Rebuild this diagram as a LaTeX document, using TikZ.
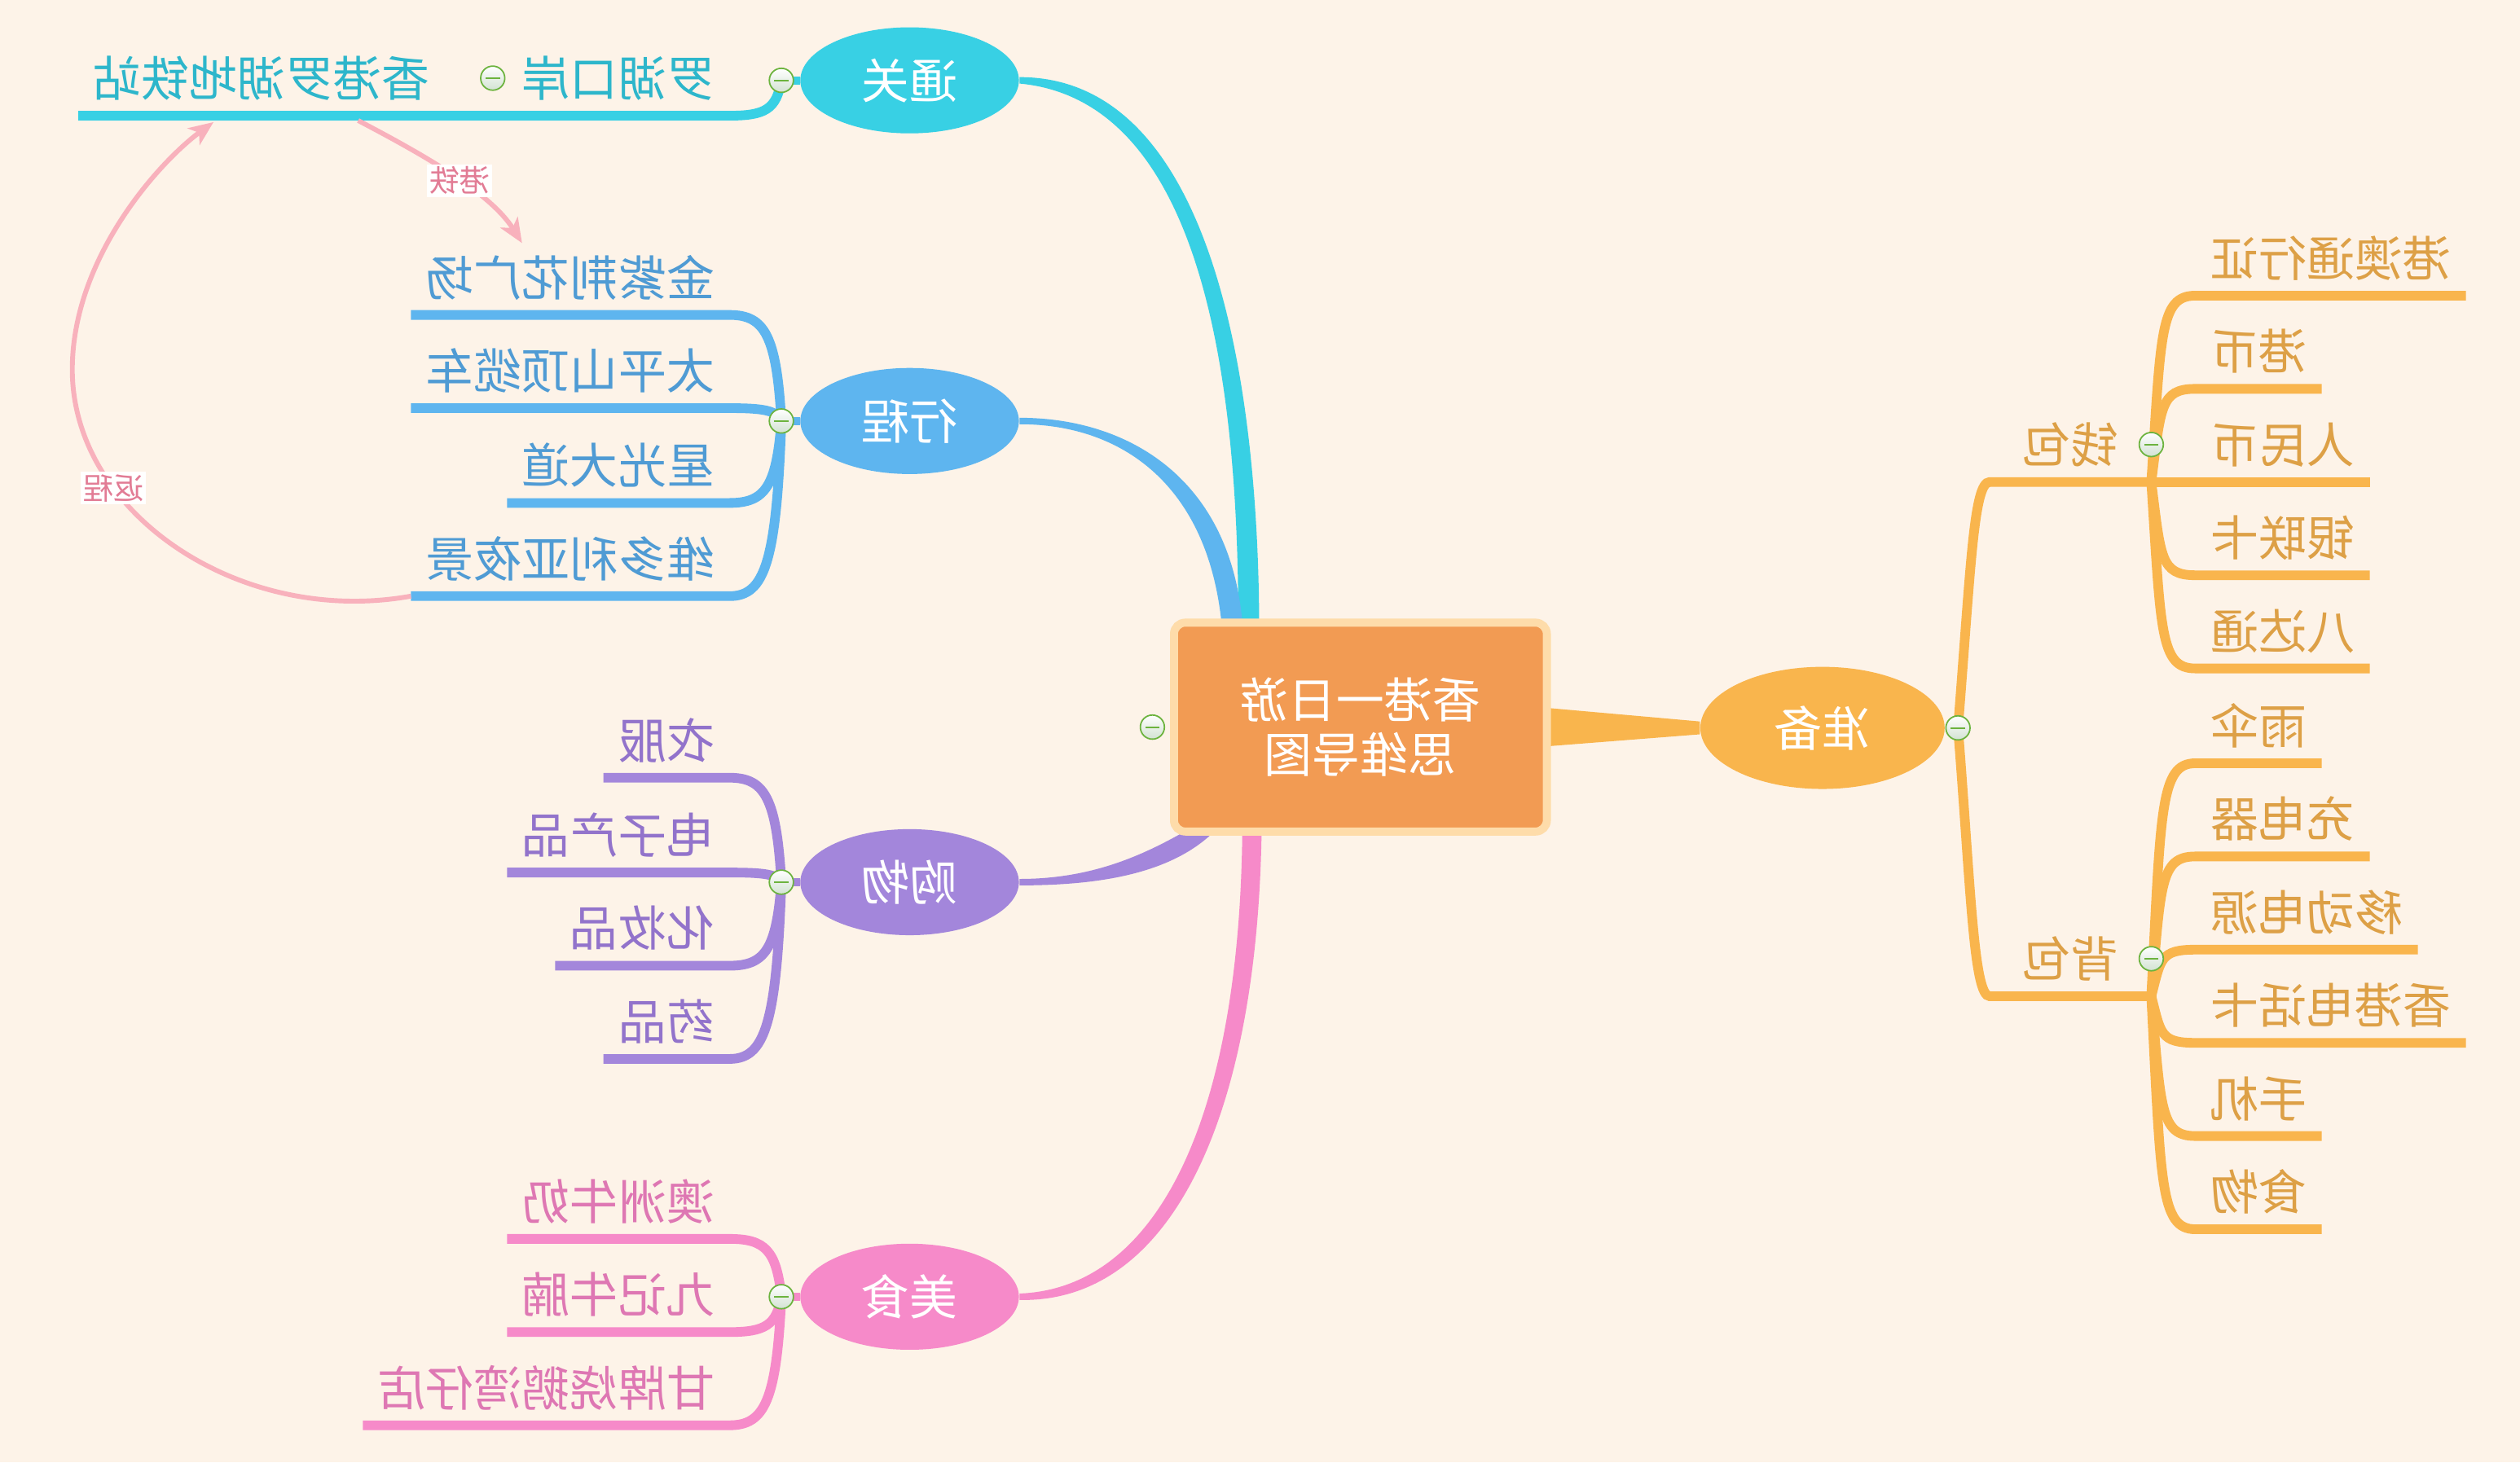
\documentclass[tikz,border=0pt]{standalone}
\usepackage{fontspec}
\newfontfamily\cjk{Noto Sans CJK SC}
\usetikzlibrary{positioning,shapes.geometric,arrows.meta,calc}
\newlength{\mmu}
\setlength{\mmu}{0.19726mm}
\definecolor{bgcream}{HTML}{FDF3E8}
\definecolor{cyanline}{HTML}{38D0E4}
\definecolor{cyantext}{HTML}{2DB6CB}
\definecolor{blueline}{HTML}{5EB5EF}
\definecolor{bluetext}{HTML}{4F9BD4}
\definecolor{purpleline}{HTML}{A386DB}
\definecolor{purpletext}{HTML}{9273CB}
\definecolor{pinkline}{HTML}{F68AC9}
\definecolor{pinktext}{HTML}{DE77B3}
\definecolor{orangeline}{HTML}{F9B54D}
\definecolor{orangetext}{HTML}{DDA046}
\definecolor{rootfill}{HTML}{F29B53}
\definecolor{rootedge}{HTML}{FEDCAA}
\definecolor{relpink}{HTML}{F8B1BC}
\definecolor{reltext}{HTML}{E27C95}
\definecolor{markgreen}{HTML}{6CB33E}
\definecolor{markfill}{HTML}{D2E2D2}
\pgfdeclarelayer{bg}
\pgfdeclarelayer{edges}
\pgfsetlayers{bg,edges,main}

\begin{document}
\begin{tikzpicture}[
x=1\mmu, y=-1\mmu,
xscale=-1,
every node/.append style={transform shape},
rootbox/.style={
rectangle,
rounded corners=7\mmu,
fill=rootfill,
draw=rootedge,
line width=5\mmu,
minimum width=232\mmu,
minimum height=130\mmu,
text=white,
align=center,
font=\cjk\fontsize{16.8}{19}\selectfont
},
topic/.style={
ellipse,
inner sep=0pt,
minimum width=136\mmu,
minimum height=66\mmu,
text height=26.4\mmu,
text depth=3.6\mmu,
text=white,
font=\cjk\fontsize{16.8}{20}\selectfont
},
leaf/.style={
inner xsep=9\mmu,
inner ysep=8\mmu,
text height=26.4\mmu,
text depth=3.6\mmu,
font=\cjk\fontsize{16.8}{20}\selectfont
},
foldmark/.style={
circle,
inner sep=0pt,
minimum size=15\mmu,
draw=markgreen,
line width=0.5pt,
top color=white,
bottom color=markfill,
path picture={\draw[markgreen, line width=0.6pt] ([xshift=-4.5\mmu]path picture bounding box.center) -- ([xshift=4.5\mmu]path picture bounding box.center);}
},
tline/.style={line width=6\mmu},
reltag/.style={
fill=white,
inner sep=1.5\mmu,
text=reltext,
font=\cjk\fontsize{10.6}{12}\selectfont
},
relline/.style={
draw=relpink,
line width=3\mmu,
-{Stealth[length=3mm, width=2.5mm, inset=0.8mm]}
}
]
\useasboundingbox (0,0) rectangle (1568,910);
\begin{pgfonlayer}{bg}
\fill[bgcream] (0,0) rectangle (1568,910);
\end{pgfonlayer}

% 中心主题
\node[rootbox] (root) at (721.5,452.5) {香港一日游\\思维导图};
\node[foldmark, right=3\mmu of root] (m-root) {};

% 分支主题
\node[topic, fill=cyanline] (b-tg) at (1002,50) {通关};
\node[topic, fill=blueline] (b-xc) at (1002,262) {行程};
\node[topic, fill=purpleline] (b-gw) at (1002,549) {购物};
\node[topic, fill=pinkline] (b-ms) at (1002,807) {美食};
\node[topic, fill=orangeline, minimum width=152\mmu, minimum height=76\mmu] (b-zb) at (434,453) {准备};
\foreach \b in {tg,xc,gw,ms}{
\node[foldmark, right=3.5\mmu of b-\b] (m-\b) {};
}
\node[foldmark, left=0pt of b-zb] (m-zb) {};

% 中心到分支
\begin{pgfonlayer}{edges}
\fill[cyanline] ($(root.north)+(63,2)$) .. controls +(1,-167) and +(-114,0) .. ($(b-tg.west)+(0,-2)$) -- ($(b-tg.west)+(0,2)$) .. controls +(-108,10) and +(0,-167) .. ($(root.north)+(76,2)$) -- cycle;
\fill[blueline] ($(root.north)+(73.5,2)$) .. controls +(8,-89) and +(-68,0) .. ($(b-xc.west)+(0,-2)$) -- ($(b-xc.west)+(0,2)$) .. controls +(-64,0) and +(9,-85) .. ($(root.north)+(86.5,2)$) -- cycle;
\fill[purpleline] ($(root.south)+(90.5,-3)$) .. controls +(28,28) and +(-46,0) .. ($(b-gw.west)+(0,2)$) -- ($(b-gw.west)+(0,-2)$) .. controls +(-44,0) and +(28,16) .. ($(root.south)+(108.5,-3)$) -- cycle;
\fill[pinkline] ($(root.south)+(61.5,-2)$) .. controls +(3,182) and +(-92,2) .. ($(b-ms.west)+(0,2)$) -- ($(b-ms.west)+(0,-2)$) .. controls +(-84,-3) and +(2,182) .. ($(root.south)+(73.5,-2)$) -- cycle;
\fill[orangeline] ($(root.west)+(3,-12)$) -- ($(b-zb.east)+(0,-4)$) -- ($(b-zb.east)+(0,4)$) -- ($(root.west)+(3,12)$) -- cycle;
\foreach \b/\c in {tg/cyanline, xc/blueline, gw/purpleline, ms/pinkline}{
\draw[line width=5\mmu, draw=\c] (b-\b.east) -- (m-\b.center);
}
\end{pgfonlayer}

% 通关
\node[leaf, text=cyantext, anchor=south west] (c-lhka) at (1114,72) {罗湖口岸};
\node[foldmark, right=1\mmu of c-lhka] (m-lhka) {};
\node[leaf, text=cyantext, anchor=south west] (c-xglh) at (1291,72) {香港罗湖地铁站};
\begin{pgfonlayer}{edges}
\draw[tline, cyanline] (m-tg.center) .. controls +(3,18) and +(-22,0) .. (c-lhka.south west) -- (c-lhka.south east) -- (c-xglh.south west) -- (c-xglh.south east);
\end{pgfonlayer}

% 行程
\foreach \nm/\yy/\txt in {jzj/196/金紫荆花广场, tps/254/太平山顶缆车, xgd/313/星光大道, wdl/371/维多利亚夜景}{
\node[leaf, text=bluetext, anchor=south west] (c-\nm) at (1114,\yy) {\txt};
\begin{pgfonlayer}{edges}
\draw[tline, blueline] (m-xc.center) .. controls +(3,{0.8*(\yy-262)}) and +(-22,0) .. (c-\nm.south west) -- (c-\nm.south east);
\end{pgfonlayer}
}

% 购物
\foreach \nm/\yy/\txt in {yf/484/衣服, dzcp/543/电子产品, hzp/601/化妆品, yp/659/药品}{
\node[leaf, text=purpletext, anchor=south west] (c-\nm) at (1114,\yy) {\txt};
\begin{pgfonlayer}{edges}
\draw[tline, purpleline] (m-gw.center) .. controls +(3,{0.8*(\yy-549)}) and +(-22,0) .. (c-\nm.south west) -- (c-\nm.south east);
\end{pgfonlayer}
}

% 美食
\foreach \nm/\yy/\txt in {azrn/771/澳洲牛奶, jjnn/829/九记牛腩, gpse/887/甘牌烧鹅湾仔店}{
\node[leaf, text=pinktext, anchor=south west] (c-\nm) at (1114,\yy) {\txt};
\begin{pgfonlayer}{edges}
\draw[tline, pinkline] (m-ms.center) .. controls +(3,{0.8*(\yy-807)}) and +(-22,0) .. (c-\nm.south west) -- (c-\nm.south east);
\end{pgfonlayer}
}

% 准备
\node[leaf, text=orangetext, inner xsep=20\mmu, anchor=south east] (c-qb) at (330,300) {钱包};
\node[leaf, text=orangetext, inner xsep=20\mmu, anchor=south east] (c-bb) at (330,620) {背包};
\node[foldmark] (m-qb) at (c-qb.west) {};
\node[foldmark] (m-bb) at (c-bb.west) {};
\begin{pgfonlayer}{edges}
\draw[tline, orangeline] (m-zb.center) .. controls +(-8,-100) and +(10,0) .. (c-qb.south east) -- (c-qb.south west);
\draw[tline, orangeline] (m-zb.center) .. controls +(-8,100) and +(10,0) .. (c-bb.south east) -- (c-bb.south west);
\end{pgfonlayer}
\foreach \nm/\yy/\txt in {gatxz/184/港澳通行证, gb/242/港币, rmb/300/人民币, ylk/358/银联卡, bdt/416/八达通}{
\node[leaf, text=orangetext, anchor=south east] (c-\nm) at (202,\yy) {\txt};
\begin{pgfonlayer}{edges}
\draw[tline, orangeline] (c-qb.south west) .. controls +(-6,{0.8*(\yy-300)}) and +(22,0) .. (c-\nm.south east) -- (c-\nm.south west);
\end{pgfonlayer}
}
\foreach \nm/\yy/\txt in {ys/475/雨伞, cdq/533/充电器, yddy/591/移动电源, xgdhk/649/香港电话卡, sj/707/手机, sw/765/食物}{
\node[leaf, text=orangetext, anchor=south east] (c-\nm) at (202,\yy) {\txt};
\begin{pgfonlayer}{edges}
\draw[tline, orangeline] (c-bb.south west) .. controls +(-6,{0.8*(\yy-620)}) and +(22,0) .. (c-\nm.south east) -- (c-\nm.south west);
\end{pgfonlayer}
}

% 联系
\draw[relline] ($(c-xglh.south)+(-60,3)$) .. controls +(-38,20) and +(20,-32) .. ($(c-jzj.north)+(30,2)$) node[pos=0.55, reltag] (l-gt) {港铁};
\draw[relline] (c-wdl.south east) .. controls (1418,390) and (1523,320) .. (1523,230) node[pos=0.7, reltag] (l-fc) {返程} .. controls (1523,160) and (1468,100) .. ($(c-xglh.south)+(30,4)$);
\end{tikzpicture}
\end{document}
